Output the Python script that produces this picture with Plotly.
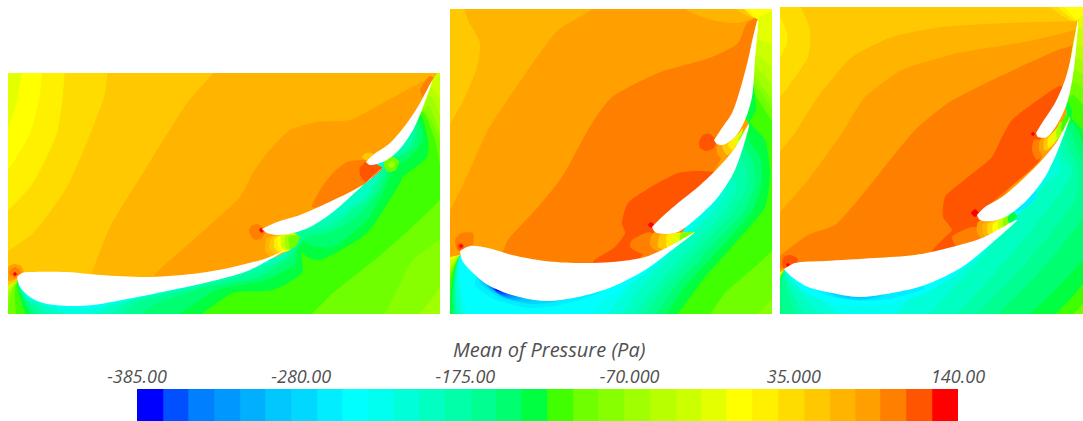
import plotly.graph_objects as go

W, H = 1083, 421
TICK_VALUES = [-385, -280, -175, -70, 35, 140]
TICK_LABELS = ["-385.00", "-280.00", "-175.00", "-70.000", "35.000", "140.00"]
BAND_VALUES = [-377, -360, -344, -327, -311, -295, -278, -262, -245, -229, -213, -196, -180, -163,
               -147, -131, -114, -98, -82, -65, -49, -32, -16, 0, 17, 33, 50, 66, 82, 99, 115, 132]
BAND_COLORS = ["#0000ff", "#0050ff", "#0080ff", "#0098ff", "#00b0ff", "#00c8ff", "#00d8ff", "#00eeff",
               "#00ffff", "#00fff0", "#00ffd8", "#00ffc0", "#00ffa8", "#00ff90", "#00ff70", "#00ff40",
               "#40ff00", "#70ff00", "#88ff00", "#a0ff00", "#b8ff00", "#ccff00", "#e4ff00", "#ffff00",
               "#fff000", "#ffdc00", "#ffc800", "#ffb400", "#ffa000", "#ff8000", "#ff5500", "#ff0000"]

# ---------- panel 1: isobar regions (mesh coordinates) ----------
P1_BASE = [[-20,50],[460,50],[460,340],[-20,340]]
P1_U26 = [[-20,50],[225,50],[213,73],[187,103],[143,173],[110,227],[92,273],[85,300],[-20,300]]
P1_U25 = [[-20,50],[105,50],[105,93],[93,127],[67,187],[33,233],[-5,258],[-20,258]]
P1_U24 = [[-20,50],[62,50],[63,93],[57,133],[33,183],[8,210],[-20,225]]
P1_U23 = [[-20,50],[40,50],[40,93],[30,133],[8,170],[-20,200]]
P1_U22 = [[-20,50],[21,50],[18,97],[8,127],[-20,160]]
P1_U28 = [[153,285],[153,277],[193,240],[240,197],[253,173],[267,153],[290,130],[317,122],[350,120],[383,103],[430,78],[450,72],[450,180],[300,250]]
P1_U29 = [[312,207],[320,190],[333,173],[347,162],[363,160],[385,165],[370,185],[340,205]]
P1_U30 = [[360,167],[365,164],[383,165],[367,183],[360,175]]
P1_U29B = [[420,90],[430,76],[436,80],[425,100]]
P1_INNER = [[18,281],[100,290],[200,278],[250,267],[283,252],[293,233],[330,209],[360,188],[383,168],[376,163],[415,120]]
P1_CORE = [[18,281],[100,290],[200,278],[250,267]]
P1_L21 = [[433,79],[450,60],[450,330],[-20,330],[-20,307]]
P1_L20 = [[431,88],[450,118],[450,330],[-15,330]]
P1_L19 = [[430,95],[450,150],[450,330],[-4,330]]
P1_L18 = [[428,105],[450,172],[450,268],[400,330],[2,330]]
P1_L17 = [[424,110],[440,140],[450,190],[450,230],[413,260],[370,330],[9,330]]
P1_L16 = [[423,112],[435,140],[440,165],[448,188],[390,247],[333,293],[290,330],[22,330]]
P1_L15 = [[421,115],[428,140],[427,157],[403,177],[400,183],[367,233],[320,260],[307,257],[302,252],[302,273],[273,290],[233,293],[175,330],[36,330]]
P1_L14 = [[419,122],[423,140],[410,157],[393,170],[383,193],[367,220],[333,247],[310,245],[298,238],[296,263],[267,280],[217,290],[150,330],[43,330]]
P1_L13 = [[417,127],[413,147],[393,160],[377,193],[357,217],[330,233],[307,237],[290,257],[260,277],[207,287],[150,307],[128,330],[49,330]]
P1_L12 = [[413,137],[407,150],[390,160],[370,197],[353,210],[330,227],[300,233],[287,257],[253,273],[200,287],[135,303],[108,330],[56,330]]
P1_L11 = [[405,145],[388,160],[365,198],[345,212],[325,222],[300,230],[286,255],[245,272],[190,285],[125,303],[95,330],[68,330]]
P1_L10 = [[240,268],[170,288],[118,300],[98,314],[88,330],[80,330],[64,314],[46,306],[28,300]]
P1_L9 = [[200,284],[130,300],[90,309],[65,309],[40,303],[30,298]]
P1_L8 = [[150,291],[110,300],[80,306],[60,306],[45,302]]
P1_G27 = [[267,238],[265,250],[272,258],[286,251],[293,234],[280,234]]
P1_G26 = [[271,238],[269,248],[275,254],[287,251],[294,234],[282,234]]
P1_G24 = [[275,238],[274,247],[279,252],[288,251],[295,234]]
P1_G23 = [[278,237],[278,247],[283,251],[290,250],[296,234]]
P1_G21 = [[281,236],[282,248],[288,250],[297,235]]
P1_G19 = [[285,236],[286,249],[292,248],[298,236]]
P1_G17 = [[289,236],[290,249],[296,246],[300,236]]
P1_G17B = [[384,166],[388,172],[396,170],[399,161],[392,157],[385,160]]
P1_G19B = [[388,165],[391,168],[395,165],[392,161]]
P1_S28 = [[6,273],[9,266],[15,264],[21,266],[24,273],[18,278],[9,281]]
P1_S29 = [[9,273],[11,269],[15,267],[19,269],[21,273],[15,278]]
P1_S31 = [[13,274],[15,272],[17,274],[15,276]]
P1_T29 = [[249,232],[251,226],[257,224],[263,227],[265,232],[262,238],[255,240]]
P1_T31 = [[259,230],[261,228],[264,230],[262,233]]
P1_V26 = [[362,157],[366,153],[372,153],[374,157],[368,161]]
P1_V30 = [[363,164],[366,162],[369,165],[366,168]]
P1_FOIL1 = [[17,277],[22,273],[30,272],[67,272],[100,275],[150,277],[200,273],[233,267],[267,258],[285,250],[250,270],[217,280],[167,291],[127,299],[93,305],[67,306],[43,303],[30,297],[20,287],[17,277]]
P1_FOIL2 = [[262,229],[277,222],[300,215],[323,205],[350,192],[367,182],[383,167],[360,188],[333,212],[310,227],[293,233],[277,235],[267,233],[262,229]]
P1_FOIL3 = [[366,162],[373,155],[390,143],[407,123],[420,103],[432,81],[423,107],[413,130],[397,152],[383,162],[370,165],[366,162]]

# ---------- panel 2 ----------
P2_BASE = [[430,-20],[790,-20],[790,340],[430,340]]
P2_U26 = [[430,-10],[458,-10],[468,20],[480,43],[477,67],[465,97],[450,123],[430,135]]
P2_U28 = [[600,-10],[592,9],[558,30],[528,70],[488,130],[462,187],[440,228],[430,240],[430,330],[790,330],[790,10],[755,18],[738,23],[712,20],[685,9],[670,-10]]
P2_U29 = [[503,262],[503,252],[508,240],[538,207],[562,177],[592,123],[612,97],[658,73],[712,57],[738,43],[747,23],[757,18],[750,100],[700,200],[690,240],[600,275]]
P2_U30 = [[593,262],[615,247],[625,233],[622,223],[628,203],[678,173],[702,171],[715,173],[716,180],[660,225],[640,258],[600,272]]
P2_U26B = [[725,0],[750,17],[790,15],[790,0]]
P2_U24B = [[738,0],[755,18],[790,12],[790,0]]
P2_U23B = [[745,0],[757,19],[790,10],[790,0]]
P2_INNER = [[461,255],[578,280],[645,264],[690,236],[696,218],[735,160],[749,124],[745,118],[752,60]]
P2_INNERB = [[461,255],[578,280],[645,264],[690,236],[696,218],[735,160],[749,124]]
P2_INNERC = [[461,255],[578,280],[645,264],[680,236],[700,205]]
P2_CORE = [[480,270],[560,285]]
P2_L22 = [[758,19],[780,10],[780,330],[430,330],[430,266]]
P2_L21 = [[757,40],[785,55],[785,330],[430,330],[430,280]]
P2_L20 = [[756,55],[785,85],[785,330],[430,330],[430,304]]
P2_L19 = [[755,65],[785,105],[785,330],[435,330]]
P2_L18 = [[754,75],[785,120],[785,330],[438,330]]
P2_L17 = [[753,80],[785,130],[785,280],[735,330],[444,330]]
P2_L16 = [[752,88],[785,145],[785,235],[725,293],[695,330],[447,330]]
P2_L15 = [[753,80],[756,110],[750,122],[765,140],[770,173],[765,207],[738,240],[705,277],[660,330],[454,330]]
P2_L14 = [[747,137],[760,157],[762,180],[753,210],[725,243],[688,283],[650,330],[457,330]]
P2_L13 = [[743,143],[753,163],[755,183],[745,210],[715,243],[678,283],[640,330],[459,330]]
P2_L12 = [[740,150],[747,170],[747,187],[735,210],[705,243],[665,287],[628,330],[461,330]]
P2_L11 = [[732,173],[737,187],[725,210],[695,243],[655,287],[617,330],[463,330]]
P2_L10 = [[727,187],[715,210],[688,237],[645,283],[605,330],[466,330]]
P2_L9 = [[718,199],[705,213],[680,240],[635,280],[590,330],[470,330]]
P2_L8 = [[708,207],[695,220],[685,230],[675,247],[632,283],[602,300],[570,330],[475,330]]
P2_L7 = [[600,292],[560,305],[528,308],[492,298],[475,285]]
P2_L6 = [[560,300],[530,304],[500,297],[480,283]]
P2_L5 = [[530,302],[505,298],[482,282]]
P2_L4 = [[515,300],[495,292],[482,280]]
P2_L3 = [[508,298],[490,288]]
P2_L2 = [[503,296],[488,284]]
P2_L1 = [[500,294],[490,284]]
P2_L0 = [[497,291],[492,285]]
P2_G29 = [[630,247],[632,240],[650,232],[655,238],[652,257]]
P2_G28 = [[653,233],[650,245],[660,252],[690,235],[680,232]]
P2_G26 = [[660,235],[658,247],[668,250],[692,234]]
P2_G24 = [[667,235],[667,247],[675,245],[692,234]]
P2_G22 = [[674,234],[674,244],[693,233]]
P2_G18 = [[680,234],[681,241],[695,232]]
P2_H28 = [[717,146],[718,155],[725,160],[733,155],[738,138]]
P2_H26 = [[722,146],[727,155],[735,150],[740,135]]
P2_H24 = [[728,145],[733,150],[741,132]]
P2_H22 = [[734,143],[738,145],[743,128]]
P2_H18 = [[738,140],[742,138],[746,128]]
P2_S29 = [[455,240],[461,233],[473,233],[473,245],[465,252],[457,250]]
P2_S30 = [[457,246],[460,243],[464,245],[463,249],[459,250]]
P2_S31 = [[459,246],[461,244],[463,246],[461,248]]
P2_T31 = [[648,225],[651,222],[654,225],[651,228]]
P2_V30 = [[699,142],[703,135],[710,134],[716,140],[714,148],[706,151],[700,148]]
P2_FOIL1 = [[460,251],[470,246],[488,248],[512,255],[545,261],[578,263],[612,262],[645,257],[672,245],[695,232],[672,250],[645,270],[612,287],[578,297],[545,301],[512,295],[488,285],[472,272],[462,260],[460,251]]
P2_FOIL2 = [[652,227],[662,217],[678,203],[698,187],[718,168],[735,148],[749,124],[735,170],[718,197],[698,217],[678,232],[665,234],[655,232],[652,227]]
P2_FOIL3 = [[714,140],[722,128],[732,113],[740,90],[748,60],[753,37],[758,20],[755,60],[752,97],[745,120],[735,137],[723,145],[717,144],[714,140]]

# ---------- panel 3 ----------
P3_BASE = [[765,-20],[1100,-20],[1100,340],[765,340]]
P3_U25 = [[765,-10],[790,-10],[810,30],[808,57],[795,77],[780,97],[765,110]]
P3_U24 = [[765,5],[780,17],[787,33],[787,43],[780,57],[765,70]]
P3_U27 = [[765,175],[795,133],[818,97],[852,57],[892,37],[942,27],[1008,23],[1077,21],[1090,20],[1090,250],[765,300]]
P3_U28 = [[765,235],[808,180],[842,133],[865,97],[902,70],[958,53],[1025,42],[1075,30],[1090,25],[1090,200],[1000,260],[780,290]]
P3_U29 = [[765,270],[808,235],[835,225],[858,200],[882,170],[915,130],[948,103],[992,80],[1058,50],[1072,45],[1076,30],[1060,120],[1000,200],[950,250],[800,265]]
P3_U30 = [[932,252],[945,237],[952,230],[943,217],[945,197],[968,177],[992,157],[1002,137],[1012,120],[1042,97],[1060,86],[1066,90],[1040,160],[990,205],[975,230],[960,250]]
P3_U25B = [[1042,0],[1072,21],[1090,18],[1090,0]]
P3_U24B = [[1052,0],[1075,20],[1090,15],[1090,0]]
P3_U23B = [[1060,0],[1077,19],[1090,10],[1090,0]]
P3_INNER = [[785,270],[890,280],[995,240],[998,212],[1050,158],[1067,125],[1066,100]]
P3_INNERB = [[785,270],[890,280],[995,240],[998,212],[1050,158],[1067,125]]
P3_INNERC = [[785,270],[890,280],[985,245],[1030,190]]
P3_CORE = [[800,270],[900,280]]
P3_L22 = [[1079,20],[1095,5],[1095,330],[765,330],[765,283]]
P3_L21 = [[1078,28],[1095,40],[1095,330],[765,330],[765,302]]
P3_L20 = [[1077,45],[1095,60],[1095,330],[762,330]]
P3_L19 = [[1076,58],[1095,75],[1095,330],[768,330]]
P3_L18 = [[1075,70],[1095,90],[1095,330],[772,330]]
P3_L17 = [[1074,82],[1095,105],[1095,330],[774,330]]
P3_L16 = [[1073,95],[1095,125],[1095,285],[1053,330],[776,330]]
P3_L15 = [[1072,110],[1072,118],[1095,145],[1095,265],[1033,330],[777,330]]
P3_L14 = [[1072,122],[1085,150],[1095,240],[1005,330],[778,330]]
P3_L13 = [[1070,130],[1085,170],[1090,205],[975,330],[788,330]]
P3_L12 = [[1066,140],[1078,170],[1076,198],[955,330],[806,330]]
P3_L11 = [[1062,150],[1072,170],[1066,185],[935,330],[819,330]]
P3_L10 = [[1058,158],[1062,172],[1050,180],[908,330],[840,330]]
P3_L9 = [[1050,170],[1045,182],[1010,215],[925,280],[880,330],[867,330]]
P3_L8 = [[1037,192],[1020,212],[1000,228],[985,250],[955,275],[925,293],[890,304],[860,306],[830,302],[805,292]]
P3_L7 = [[925,288],[890,299],[860,301],[832,297],[812,288]]
P3_L6 = [[880,297],[858,300],[835,296]]
P3_L5 = [[870,298],[850,298],[840,295]]
P3_L7B = [[1037,192],[1035,200],[1025,208],[1015,212],[1030,190]]
P3_G29 = [[952,237],[975,227],[982,247],[957,247]]
P3_G28 = [[978,222],[977,232],[983,240],[1005,230],[1008,220],[995,218]]
P3_G27 = [[983,224],[983,234],[988,238],[1008,226],[1009,218],[995,220]]
P3_G25 = [[988,224],[988,234],[993,235],[1009,224],[1010,218]]
P3_G23 = [[993,224],[993,232],[998,232],[1010,222],[1010,216]]
P3_G21 = [[998,222],[999,230],[1011,220],[1010,215]]
P3_G18 = [[1003,220],[1004,227],[1012,219],[1011,214]]
P3_G15 = [[1008,217],[1009,223],[1017,217],[1014,212]]
P3_H29 = [[1034,140],[1032,150],[1037,160],[1045,153],[1040,140]]
P3_H28 = [[1040,140],[1039,150],[1043,156],[1055,140],[1045,136]]
P3_H26 = [[1044,140],[1044,150],[1048,150],[1058,136],[1050,135]]
P3_H24 = [[1048,139],[1048,148],[1052,146],[1060,132],[1053,132]]
P3_H22 = [[1052,136],[1053,144],[1063,130],[1057,128]]
P3_H19 = [[1056,133],[1058,140],[1066,125],[1060,122]]
P3_H16 = [[1061,128],[1063,133],[1071,118],[1065,115]]
P3_S30 = [[782,262],[785,256],[791,255],[797,258],[798,264],[790,268],[784,269]]
P3_S31 = [[786,265],[788,263],[790,265],[788,267]]
P3_T31 = [[971,213],[975,209],[979,213],[975,217]]
P3_V31 = [[1031,134],[1033,132],[1035,134],[1033,136]]
P3_FOIL1 = [[784,269],[795,263],[825,261],[875,258],[915,255],[948,248],[982,238],[1017,220],[992,243],[962,267],[925,285],[892,293],[858,297],[832,293],[808,287],[792,277],[784,269]]
P3_FOIL2 = [[977,215],[985,207],[1002,197],[1022,180],[1042,160],[1058,140],[1070,117],[1058,150],[1045,177],[1025,202],[1005,217],[992,221],[980,220],[977,215]]
P3_FOIL3 = [[1036,133],[1042,123],[1055,103],[1065,80],[1072,53],[1078,20],[1075,60],[1068,100],[1058,123],[1047,137],[1038,137],[1036,133]]

P1_LAYERS = [(27,P1_BASE),(26,P1_U26),(25,P1_U25),(24,P1_U24),(23,P1_U23),(22,P1_U22),(28,P1_U28),(29,P1_U29),(30,P1_U30),(29,P1_U29B),
    (21,P1_L21+P1_INNER),(20,P1_L20+P1_INNER),(19,P1_L19+P1_INNER),(18,P1_L18+P1_INNER),(17,P1_L17+P1_INNER),(16,P1_L16+P1_INNER),
    (15,P1_L15+P1_INNER),(14,P1_L14+P1_INNER),(13,P1_L13+P1_INNER),(12,P1_L12+P1_INNER),(11,P1_L11+P1_INNER),
    (10,P1_L10+P1_CORE),(9,P1_L9+P1_CORE),(8,P1_L8+P1_CORE),
    (27,P1_G27),(26,P1_G26),(24,P1_G24),(23,P1_G23),(21,P1_G21),(19,P1_G19),(17,P1_G17),(17,P1_G17B),(19,P1_G19B),
    (28,P1_S28),(29,P1_S29),(31,P1_S31),(29,P1_T29),(31,P1_T31),(26,P1_V26),(30,P1_V30)]
P2_LAYERS = [(27,P2_BASE),(26,P2_U26),(28,P2_U28),(29,P2_U29),(30,P2_U30),(26,P2_U26B),(24,P2_U24B),(23,P2_U23B),
    (22,P2_L22+P2_INNER),(21,P2_L21+P2_INNER),(20,P2_L20+P2_INNER),(19,P2_L19+P2_INNER),(18,P2_L18+P2_INNER),(17,P2_L17+P2_INNER),(16,P2_L16+P2_INNER),(15,P2_L15+P2_INNER),
    (14,P2_L14+P2_INNERB),(13,P2_L13+P2_INNERB),(12,P2_L12+P2_INNERB),(11,P2_L11+P2_INNERB),(10,P2_L10+P2_INNERC),(9,P2_L9+P2_INNERC),(8,P2_L8+P2_INNERC),
    (7,P2_L7+P2_CORE),(6,P2_L6+P2_CORE),(5,P2_L5+P2_CORE),(4,P2_L4+P2_CORE),(3,P2_L3+P2_CORE),(2,P2_L2+P2_CORE),(1,P2_L1+P2_CORE),(0,P2_L0+P2_CORE),
    (29,P2_G29),(28,P2_G28),(26,P2_G26),(24,P2_G24),(22,P2_G22),(18,P2_G18),(28,P2_H28),(26,P2_H26),(24,P2_H24),(22,P2_H22),(18,P2_H18),
    (29,P2_S29),(30,P2_S30),(31,P2_S31),(31,P2_T31),(30,P2_V30)]
P3_LAYERS = [(26,P3_BASE),(25,P3_U25),(24,P3_U24),(27,P3_U27),(28,P3_U28),(29,P3_U29),(30,P3_U30),(25,P3_U25B),(24,P3_U24B),(23,P3_U23B),
    (22,P3_L22+P3_INNER),(21,P3_L21+P3_INNER),(20,P3_L20+P3_INNER),(19,P3_L19+P3_INNER),(18,P3_L18+P3_INNER),(17,P3_L17+P3_INNER),(16,P3_L16+P3_INNER),(15,P3_L15+P3_INNER),
    (14,P3_L14+P3_INNERB),(13,P3_L13+P3_INNERB),(12,P3_L12+P3_INNERB),(11,P3_L11+P3_INNERB),(10,P3_L10+P3_INNERB),(9,P3_L9+P3_INNERC),(8,P3_L8+P3_INNERC),
    (7,P3_L7+P3_CORE),(6,P3_L6+P3_CORE),(5,P3_L5+P3_CORE),(7,P3_L7B),
    (29,P3_G29),(28,P3_G28),(27,P3_G27),(25,P3_G25),(23,P3_G23),(21,P3_G21),(18,P3_G18),(15,P3_G15),
    (29,P3_H29),(28,P3_H28),(26,P3_H26),(24,P3_H24),(22,P3_H22),(19,P3_H19),(16,P3_H16),
    (30,P3_S30),(31,P3_S31),(31,P3_T31),(31,P3_V31)]

PANELS = [
    ("x", "y", (8, 440), (73, 314), P1_LAYERS, [P1_FOIL1, P1_FOIL2, P1_FOIL3]),
    ("x2", "y2", (450, 772), (9, 314), P2_LAYERS, [P2_FOIL1, P2_FOIL2, P2_FOIL3]),
    ("x3", "y3", (780, 1083), (7, 314), P3_LAYERS, [P3_FOIL1, P3_FOIL2, P3_FOIL3]),
]

fig = go.Figure()


def add_region(pts, color, ax, ay, smooth=0.6):
    loop = pts + pts[:1]
    fig.add_trace(go.Scatter(
        x=[p[0] for p in loop], y=[p[1] for p in loop], xaxis=ax, yaxis=ay,
        mode="lines", fill="toself", fillcolor=color,
        line=dict(width=0, shape="spline", smoothing=smooth, color=color),
        hoverinfo="skip", showlegend=False))


layout_axes = {}
for i, (ax, ay, xr, yr, layers, foils) in enumerate(PANELS):
    for band, pts in layers:
        add_region(pts, BAND_COLORS[band], ax, ay)
    for foil in foils:
        add_region(foil, "#ffffff", ax, ay, smooth=0.9)
    sfx = "" if i == 0 else str(i + 1)
    layout_axes["xaxis" + sfx] = dict(domain=[xr[0] / W, xr[1] / W], range=list(xr), visible=False, fixedrange=True, automargin=False)
    layout_axes["yaxis" + sfx] = dict(domain=[1 - yr[1] / H, 1 - yr[0] / H], range=[yr[1], yr[0]], visible=False, fixedrange=True, anchor=ax, automargin=False)

n = len(BAND_COLORS)
stepped = []
for i, c in enumerate(BAND_COLORS):
    stepped += [[i / n, c], [(i + 1) / n, c]]
fig.add_trace(go.Heatmap(
    x=BAND_VALUES, y=[0], z=[BAND_VALUES], zmin=-385, zmax=140, colorscale=stepped,
    showscale=False, xaxis="x4", yaxis="y4", hoverinfo="skip", xgap=0))

TEXT = "#505050"
layout_axes["xaxis4"] = dict(
    domain=[137 / W, 958 / W], range=[-385, 140], side="top", anchor="y4",
    tickmode="array", tickvals=TICK_VALUES, ticktext=TICK_LABELS, ticks="", showgrid=False, zeroline=False,
    showline=False, fixedrange=True, ticklabelstandoff=1, automargin=False,
    tickfont=dict(family="Open Sans", size=18, color=TEXT, style="italic"))
layout_axes["yaxis4"] = dict(domain=[0, 1 - 389 / H], visible=False, fixedrange=True, anchor="x4", automargin=False)

fig.update_layout(width=W, height=H, margin=dict(l=0, r=0, t=0, b=0, autoexpand=False), paper_bgcolor="white",
                  plot_bgcolor="white", showlegend=False,
                  annotations=[dict(text="Mean of Pressure (Pa)", xref="paper", yref="paper", x=548.5 / W, y=1 - 349 / H,
                                    xanchor="center", yanchor="middle", showarrow=False, borderpad=0,
                                    font=dict(family="Open Sans", size=20, color=TEXT, style="italic"))],
                  **layout_axes)
fig.write_html("out.html", config={"displayModeBar": False},
               post_script="document.body.style.margin='0';document.body.style.overflow='hidden';")
